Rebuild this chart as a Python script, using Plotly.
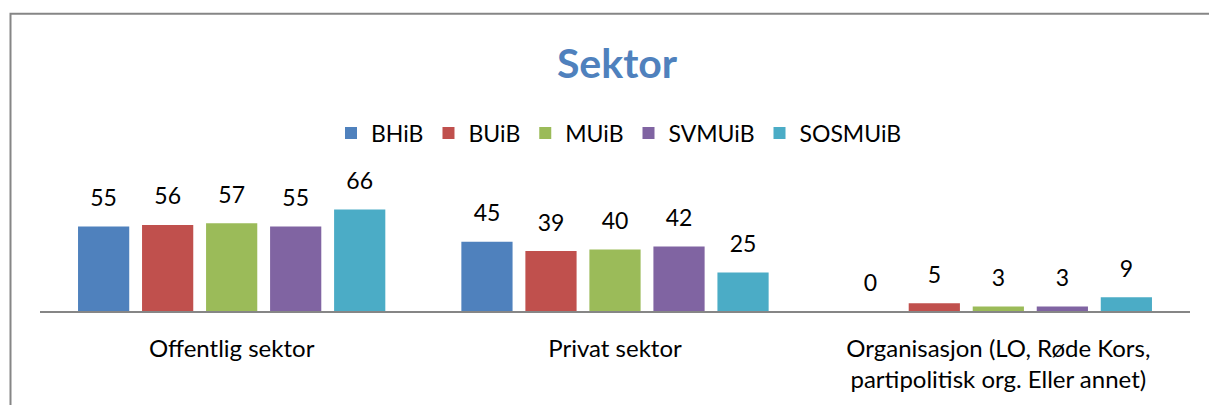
import plotly.graph_objects as go

categories = ["Offentlig sektor", "Privat sektor",
              "Organisasjon (LO, Røde Kors,<br>partipolitisk org. Eller annet)"]
series_names = ["BHiB", "BUiB", "MUiB", "SVMUiB", "SOSMUiB"]
bhib = [55, 45, 0]
buib = [56, 39, 5]
muib = [57, 40, 3]
svmuib = [55, 42, 3]
sosmuib = [66, 25, 9]
colors = ["#4F81BD", "#C0504D", "#9BBB59", "#8064A2", "#4BACC6"]

values = [bhib, buib, muib, svmuib, sosmuib]
FONT = "Lato, Open Sans, sans-serif"

W, H = 1209, 405
ML, MR, MB = 40, 19, 92
YMAX = 80
PX_PER_UNIT = 1.56
plot_h = YMAX * PX_PER_UNIT
MT = H - MB - plot_h
BARGAP = 0.165

fig = go.Figure()
for name, vals, col in zip(series_names, values, colors):
    fig.add_trace(go.Bar(
        name=name, x=categories, y=vals, offsetgroup=name,
        marker=dict(color=col, line=dict(width=0)),
        hoverinfo="skip",
    ))
for name, vals, col in zip(series_names, values, colors):
    fig.add_trace(go.Scatter(
        x=categories, y=vals, offsetgroup=name, mode="markers+text",
        text=[str(v) for v in vals], textposition="top center",
        textfont=dict(family=FONT, size=23, color="#000000"),
        marker=dict(size=22, opacity=0), showlegend=False, cliponaxis=False,
        hoverinfo="skip",
    ))

plot_w = W - ML - MR
fig.update_layout(
    width=W, height=H,
    margin=dict(l=ML, r=MR, t=MT, b=MB, pad=0),
    paper_bgcolor="white", plot_bgcolor="white",
    barmode="group", bargap=BARGAP, bargroupgap=0.2,
    scattermode="group", scattergap=BARGAP,
    font=dict(family=FONT, size=23, color="#000000"),
    title=dict(text="<b>Sektor</b>", x=617 / W, xanchor="center",
               y=1 - 64 / H, yanchor="middle", yref="container",
               font=dict(family=FONT, size=41, color="#4F81BD")),
    legend=dict(orientation="h", xref="container", yref="container",
                x=619 / W, xanchor="center", y=1 - 133 / H, yanchor="middle",
                font=dict(family=FONT, size=23, color="#000000"),
                itemwidth=30, tracegroupgap=0),
    showlegend=True,
    xaxis=dict(showline=True, linecolor="#868686", linewidth=2,
               ticks="", showgrid=False, zeroline=False,
               tickfont=dict(family=FONT, size=24, color="#000000"),
               ticklabelstandoff=15),
    yaxis=dict(range=[0, YMAX], visible=False, showgrid=False, zeroline=False),
    shapes=[dict(type="rect", xref="paper", yref="paper",
                 x0=(10.5 - ML) / plot_w, x1=1.2,
                 y0=-1.5, y1=(H - MB - 11.5) / plot_h,
                 line=dict(color="#868686", width=2), layer="above")],
)

fig.write_html("out.html",
               config={"displayModeBar": False},
               post_script="document.body.style.margin='0';"
                           "document.body.style.overflow='hidden';")
